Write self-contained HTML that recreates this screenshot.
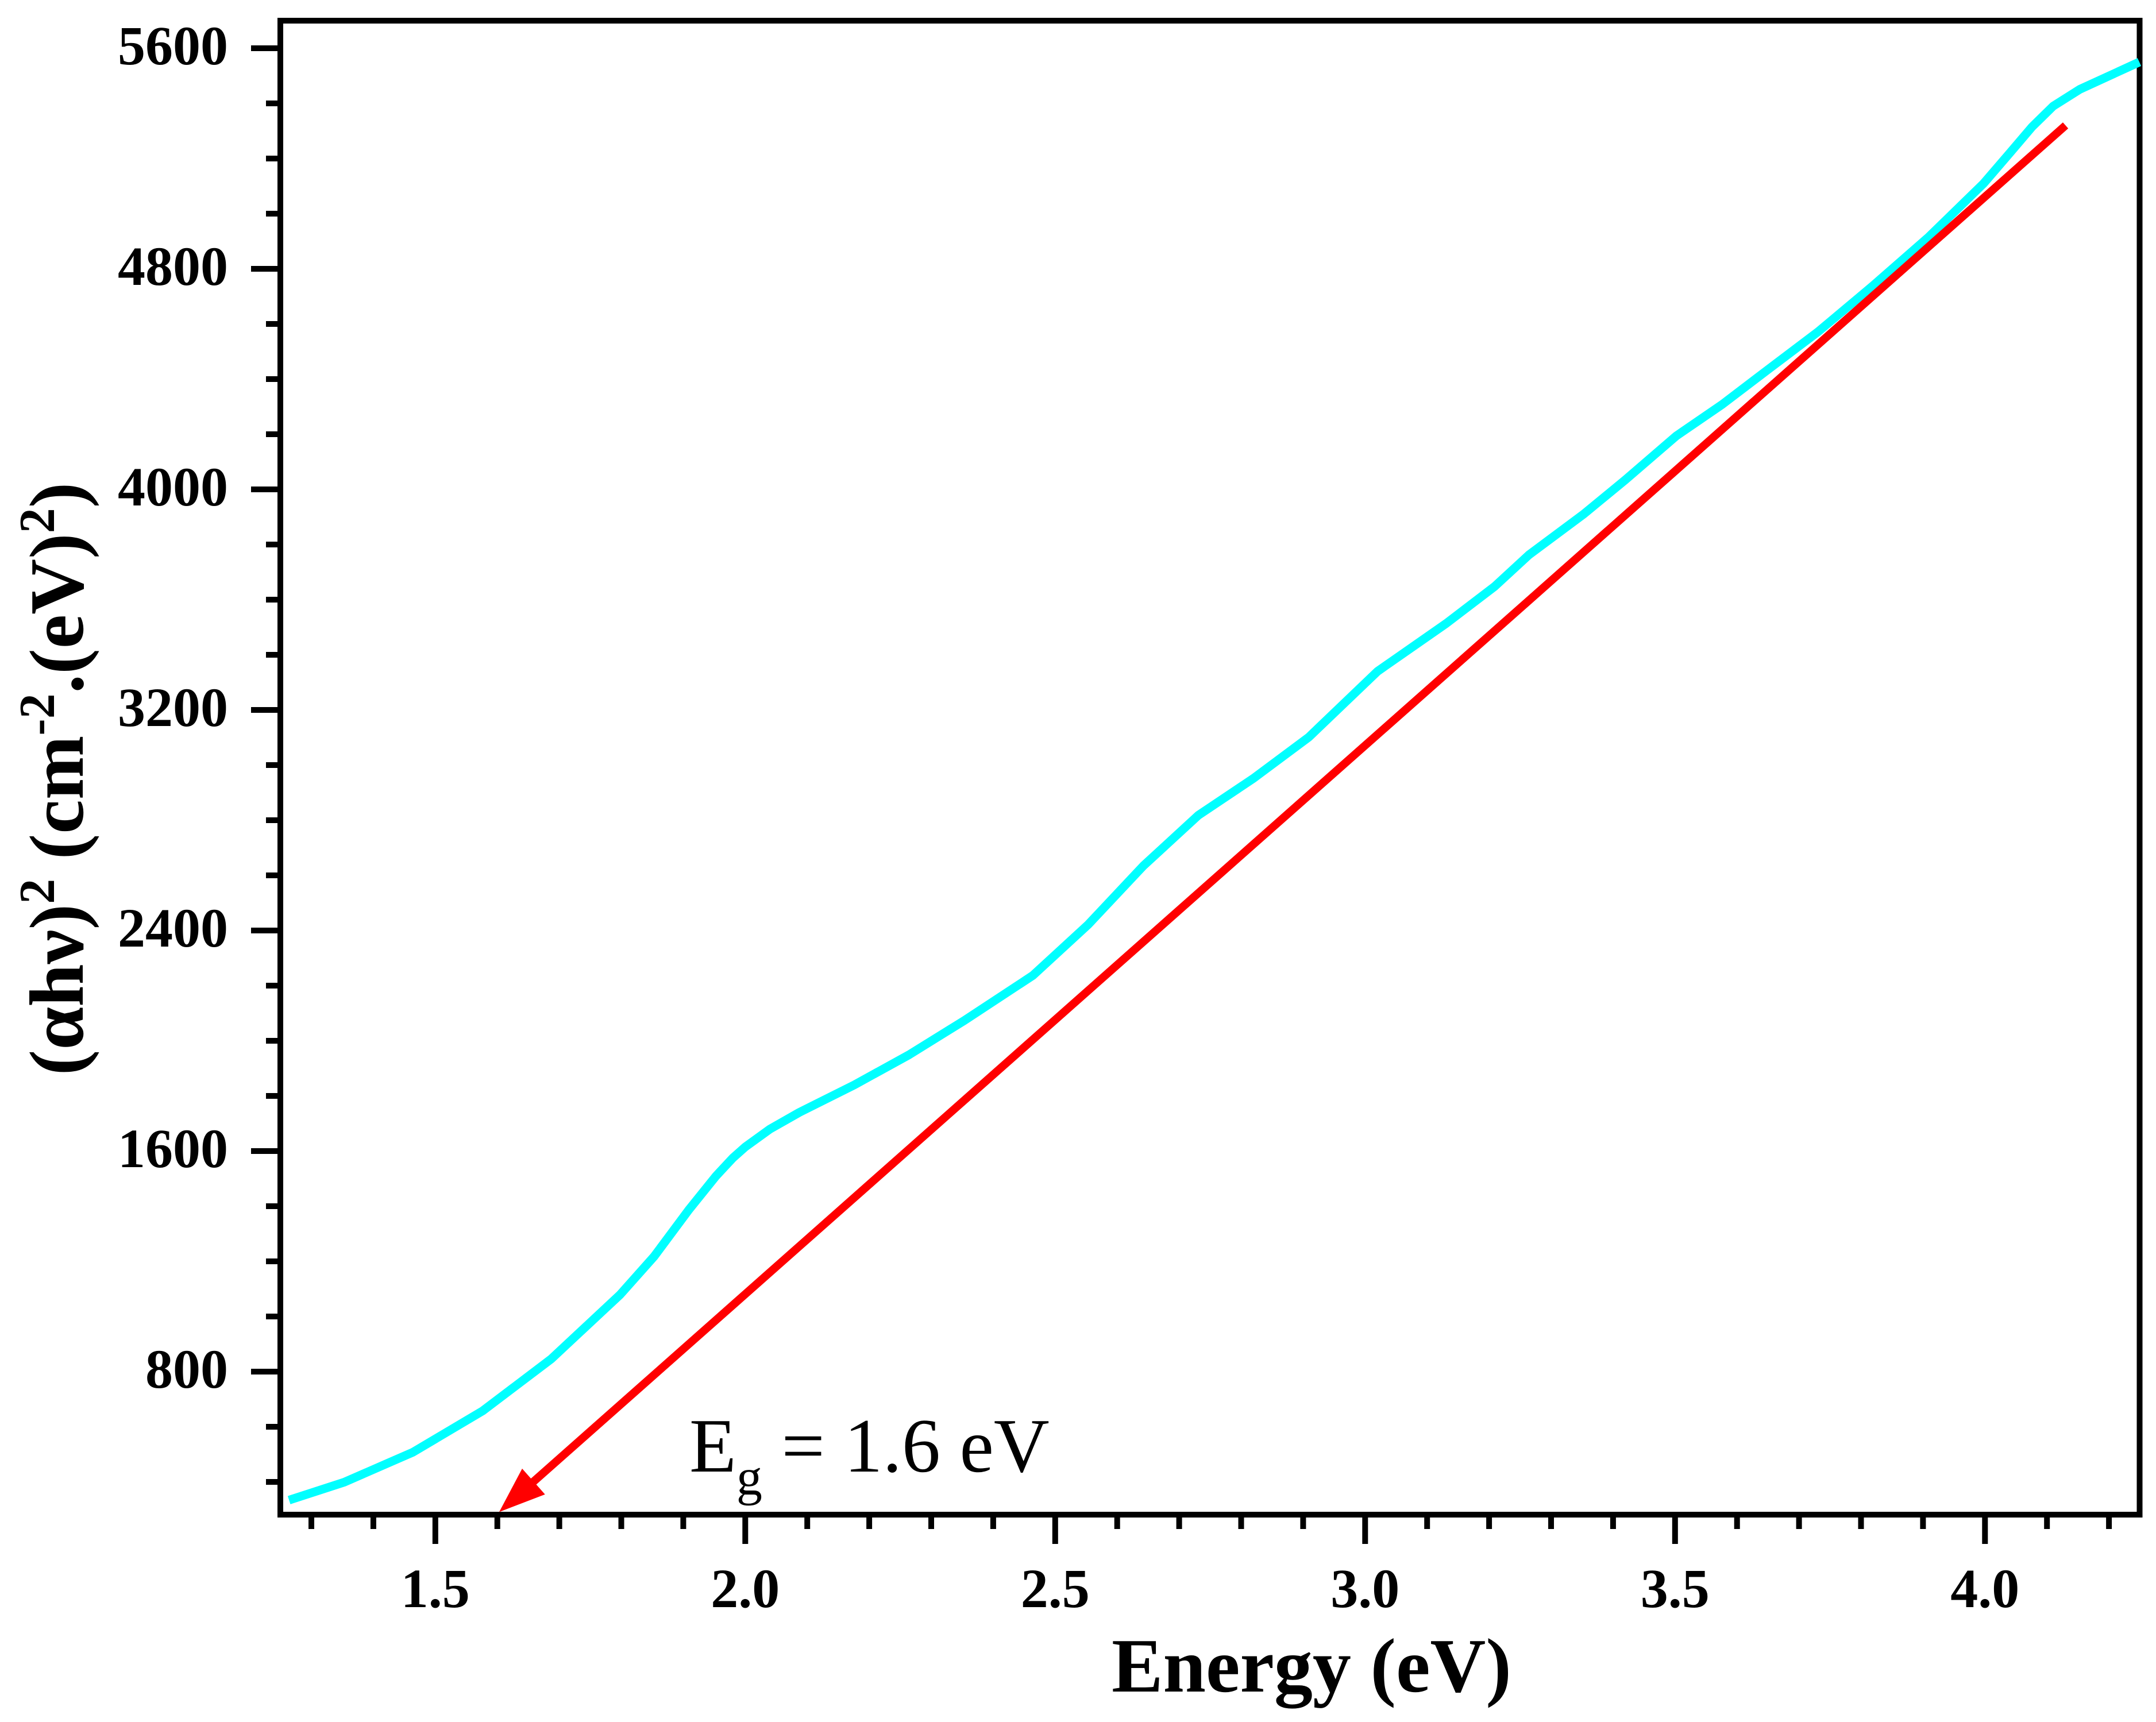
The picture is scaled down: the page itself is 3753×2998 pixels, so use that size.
<!DOCTYPE html>
<html><head><meta charset="utf-8"><style>
html,body{margin:0;padding:0;background:#fff;}
svg{display:block;}
</style></head><body>
<svg id="chart" width="3753" height="2998" xmlns="http://www.w3.org/2000/svg">
<text x="2283" y="2945" text-anchor="middle" font-family="Liberation Serif, serif" font-weight="bold" font-size="134">Energy (eV)</text>
<text transform="translate(144,1356) rotate(-90)" text-anchor="middle" font-family="Liberation Serif, serif" font-weight="bold" font-size="134">(αhν)<tspan dy="-50" font-size="88">2</tspan><tspan dy="50"> (cm</tspan><tspan dy="-50" font-size="88">-2</tspan><tspan dy="50">.(eV)</tspan><tspan dy="-50" font-size="88">2</tspan><tspan dy="50">)</tspan></text>
<text x="1200" y="2562" font-family="Liberation Serif, serif" font-size="134">E<tspan dy="40" font-size="90">g</tspan><tspan dy="-40"> = 1.6 eV</tspan></text>
</svg>
<script>
const energy = [1.264,1.353,1.464,1.576,1.687,1.798,1.853,1.909,1.953,1.98,2.0,2.04,2.087,2.176,2.264,2.353,2.464,2.553,2.642,2.731,2.82,2.909,3.02,3.131,3.209,3.264,3.353,3.42,3.502,3.576,3.649,3.731,3.82,3.909,3.998,4.04,4.076,4.11,4.153,4.249];
const absorption = [334,399,508,657,846,1079,1218,1387,1510,1575,1615,1680,1740,1840,1949,2073,2237,2421,2634,2818,2952,3101,3340,3514,3648,3762,3911,4035,4194,4308,4433,4572,4740,4915,5110,5220,5315,5390,5451,5550];
const fitEnergy = [4.13,1.603];
const fitValue = [5320,291];
const yMajorTicks = [800,1600,2400,3200,4000,4800,5600];
const yMinorTicks = [400,600,1000,1200,1400,1800,2000,2200,2600,2800,3000,3400,3600,3800,4200,4400,4600,5000,5200,5400];
const xMajorTicks = [1.5,2.0,2.5,3.0,3.5,4.0];
const xMajorLabels = ["1.5","2.0","2.5","3.0","3.5","4.0"];
const xMinorTicks = [1.3,1.4,1.6,1.7,1.8,1.9,2.1,2.2,2.3,2.4,2.6,2.7,2.8,2.9,3.1,3.2,3.3,3.4,3.6,3.7,3.8,3.9,4.1,4.2];

const NS = "http://www.w3.org/2000/svg";
const svg = document.getElementById('chart');
const X = e => 542 + (e - 1.3) * 1079;
const Y = v => 84 + (5600 - v) * 0.48;
function mk(tag, attrs, parent) {
  const el = document.createElementNS(NS, tag);
  for (const k in attrs) el.setAttribute(k, attrs[k]);
  (parent || svg).appendChild(el);
  return el;
}
let frame = mk('rect', {x:488, y:36, width:3236.5, height:2601, fill:'none', stroke:'#000', 'stroke-width':10});


yMajorTicks.forEach(v => {
  const t = mk('line', {x1:437, x2:488, y1:Y(v), y2:Y(v), stroke:'#000', 'stroke-width':10});
  
  
  const l = mk('text', {x:397, y:Y(v)+28, 'text-anchor':'end', 'font-family':'Liberation Serif, serif', 'font-weight':'bold', 'font-size':96});
  l.textContent = String(v);
  
  
});
yMinorTicks.forEach(v => {
  const t = mk('line', {x1:463, x2:488, y1:Y(v), y2:Y(v), stroke:'#000', 'stroke-width':10});
  
  
});
xMajorTicks.forEach((e, i) => {
  const t = mk('line', {x1:X(e), x2:X(e), y1:2637, y2:2688, stroke:'#000', 'stroke-width':10});
  
  
  const l = mk('text', {x:X(e), y:2798, 'text-anchor':'middle', 'font-family':'Liberation Serif, serif', 'font-weight':'bold', 'font-size':96});
  l.textContent = xMajorLabels[i];
  
  
});
xMinorTicks.forEach(e => {
  const t = mk('line', {x1:X(e), x2:X(e), y1:2637, y2:2662, stroke:'#000', 'stroke-width':10});
  
  
});
let d = energy.map((e, i) => (i ? 'L' : 'M') + X(e).toFixed(1) + ',' + Y(absorption[i]).toFixed(1)).join(' ');
const curve = mk('path', {d:d, fill:'none', stroke:'#00ffff', 'stroke-width':15, 'stroke-linejoin':'round'});


const x0 = X(fitEnergy[0]), y0 = Y(fitValue[0]), x1 = X(fitEnergy[1]), y1 = Y(fitValue[1]);
const len = Math.hypot(x1 - x0, y1 - y0), ux = (x1 - x0) / len, uy = (y1 - y0) / len;
const hl = 80, hw = 30;
const bx = x1 - ux * hl, by = y1 - uy * hl;
const fit = mk('line', {x1:x0, y1:y0, x2:bx + ux * 5, y2:by + uy * 5, stroke:'#ff0000', 'stroke-width':14});


const head = mk('polygon', {points:`${x1},${y1} ${bx - uy * hw},${by + ux * hw} ${bx + uy * hw},${by - ux * hw}`, fill:'#ff0000'});


</script>
</body></html>
